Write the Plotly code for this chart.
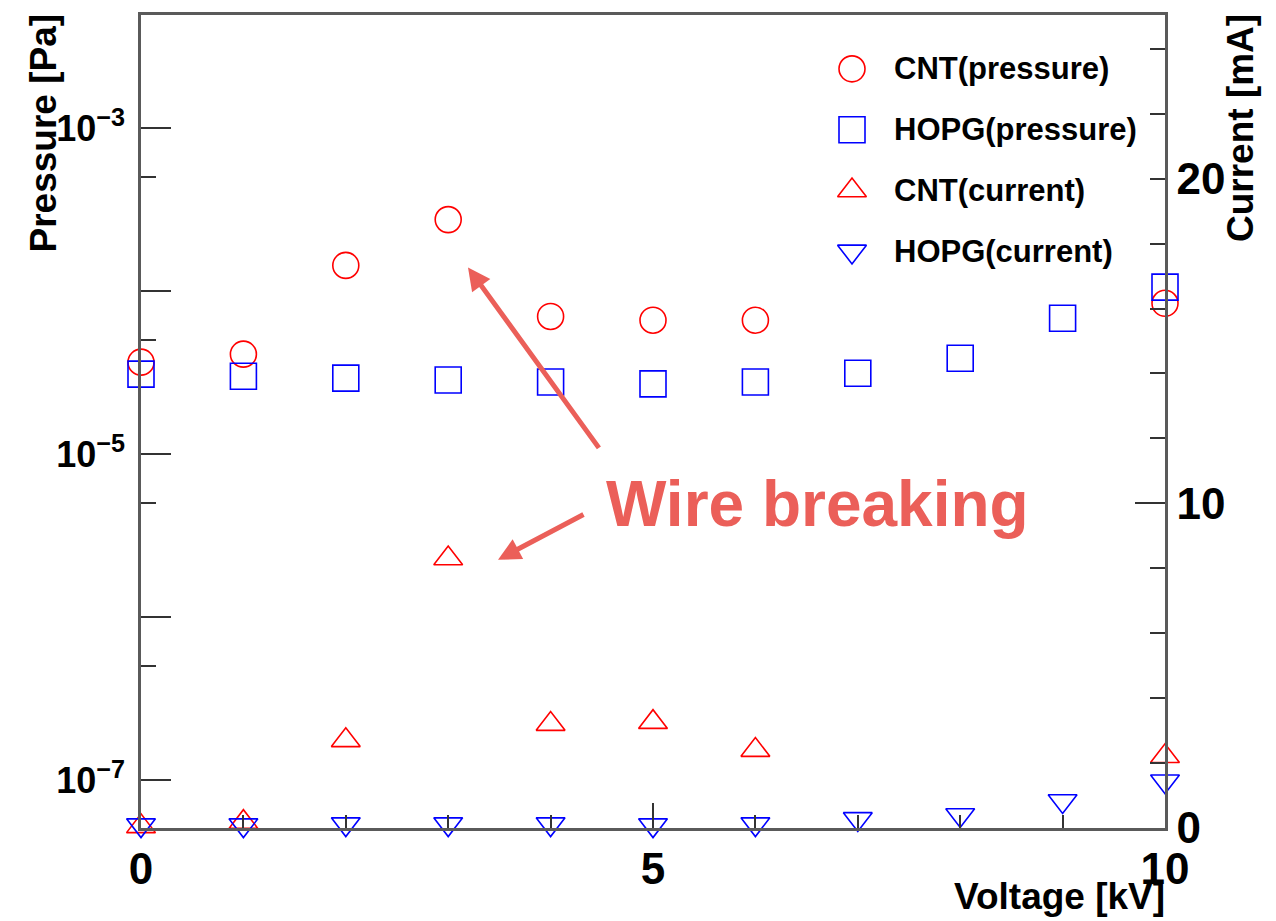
import plotly.graph_objects as go

# ---------------- data ----------------
voltage = [0, 1, 2, 3, 4, 5, 6, 7, 8, 9, 10]

cnt_p_voltage = [0, 1, 2, 3, 4, 5, 6, 10]
cnt_pressure = [3.67e-5, 4.11e-5, 1.44e-4, 2.75e-4, 7.0e-5, 6.64e-5, 6.64e-5, 8.43e-5]

hopg_pressure = [3.10e-5, 3.01e-5, 2.93e-5, 2.85e-5, 2.77e-5, 2.70e-5, 2.77e-5,
                 3.14e-5, 3.88e-5, 6.82e-5, 1.06e-4]

cnt_c_voltage = [0, 1, 2, 3, 4, 5, 6, 10]
cnt_current = [0.05, 0.18, 2.70, 8.30, 3.20, 3.26, 2.40, 2.21]

hopg_current = [0.09, 0.09, 0.12, 0.12, 0.12, 0.09, 0.12, 0.28, 0.40, 0.83, 1.44]

series_names = ["CNT(pressure)", "HOPG(pressure)", "CNT(current)", "HOPG(current)"]

left_tickvals = [1e-7, 1e-6, 1e-5, 1e-4, 1e-3]
left_ticktext = ["10<sup>\u22127</sup>", "", "10<sup>\u22125</sup>", "", "10<sup>\u22123</sup>"]
left_minor = [5e-8, 5e-7, 5e-6, 5e-5, 5e-4, 5e-3]

x_tickvals = [0, 5, 10]
right_tickvals = [0, 10, 20]

RED = "#ff0000"
BLUE = "#0000ff"
ANN = "#eb5f59"
FONT = "Liberation Sans"
AXC = "#5a5a5a"
TKC = "#333333"

styles = [
    dict(symbol="circle-open", size=26, color=RED),
    dict(symbol="square-open", size=26, color=BLUE),
    dict(symbol="triangle-up-open", size=25, color=RED),
    dict(symbol="triangle-down-open", size=25, color=BLUE),
]

def mk(st):
    return dict(symbol=st["symbol"], size=st["size"], color=st["color"],
                line=dict(width=1.6, color=st["color"]))

fig = go.Figure()
fig.add_trace(go.Scatter(x=cnt_p_voltage, y=cnt_pressure, mode="markers", name=series_names[0],
                         cliponaxis=False, showlegend=False, marker=mk(styles[0])))
fig.add_trace(go.Scatter(x=voltage, y=hopg_pressure, mode="markers", name=series_names[1],
                         cliponaxis=False, showlegend=False, marker=mk(styles[1])))
fig.add_trace(go.Scatter(x=cnt_c_voltage, y=cnt_current, mode="markers", name=series_names[2],
                         cliponaxis=False, showlegend=False, yaxis="y2", marker=mk(styles[2])))
fig.add_trace(go.Scatter(x=voltage, y=hopg_current, mode="markers", name=series_names[3],
                         cliponaxis=False, showlegend=False, yaxis="y2", marker=mk(styles[3])))

W = 1024.0
H = 815.0
def px(xp):
    return (xp - 141) / W
def py(yp):
    return (828 - yp) / H

# legend box (own hidden axes so symbols keep their true size)
LEG_L, LEG_R, LEG_T, LEG_B = 830, 1150, 40, 280
leg_rows = [67, 128, 189, 250]
for i, (nm, st) in enumerate(zip(series_names, styles)):
    fig.add_trace(go.Scatter(
        x=[(852 - LEG_L) / (LEG_R - LEG_L)], y=[(LEG_B - leg_rows[i]) / (LEG_B - LEG_T)],
        xaxis="x2", yaxis="y3", mode="markers", name=nm, showlegend=False,
        hoverinfo="name", cliponaxis=False, marker=mk(st)))

fig.update_layout(
    width=1276, height=921,
    margin=dict(l=141, r=111, t=13, b=93),
    paper_bgcolor="white", plot_bgcolor="white",
    font=dict(family=FONT, color="black"),
    showlegend=False,
    xaxis=dict(range=[0, 10], tickvals=x_tickvals, ticktext=[str(v) for v in x_tickvals],
               ticks="inside", ticklen=25, tickwidth=1.5, tickcolor=TKC,
               minor=dict(dtick=1, ticks="inside", ticklen=13, tickwidth=1.5, tickcolor=TKC),
               showline=True, linecolor=AXC, linewidth=2.5, mirror=True,
               showgrid=False, zeroline=False,
               tickfont=dict(family=FONT, size=44, color="black", weight="bold"),
               ticklabelstandoff=0),
    yaxis=dict(type="log", range=[-7.294, -2.305],
               tickvals=left_tickvals, ticktext=left_ticktext,
               ticks="inside", ticklen=30, tickwidth=1.5, tickcolor=TKC,
               minor=dict(tickvals=left_minor, ticks="inside", ticklen=15, tickwidth=1.5, tickcolor=TKC),
               showline=True, linecolor=AXC, linewidth=2.5,
               showgrid=False, zeroline=False,
               tickfont=dict(family=FONT, size=36, color="black", weight="bold"),
               ticklabelstandoff=6),
    yaxis2=dict(overlaying="y", side="right", range=[0, 25.04],
                tickvals=right_tickvals, ticktext=[str(v) for v in right_tickvals],
                ticks="inside", ticklen=30, tickwidth=1.5, tickcolor=TKC,
                minor=dict(dtick=2, ticks="inside", ticklen=15, tickwidth=1.5, tickcolor=TKC),
                showline=True, linecolor=AXC, linewidth=2.5,
                showgrid=False, zeroline=False,
                tickfont=dict(family=FONT, size=44, color="black", weight="bold"),
                ticklabelstandoff=0),
    xaxis2=dict(domain=[px(LEG_L), px(LEG_R)], range=[0, 1], anchor="y3", visible=False, fixedrange=True),
    yaxis3=dict(domain=[py(LEG_B), py(LEG_T)], range=[0, 1], anchor="x2", visible=False, fixedrange=True),
)

title_font = dict(family=FONT, size=37, color="black", weight="bold")
leg_font = dict(family=FONT, size=31, color="black", weight="bold")
annots = [
    dict(text="Pressure [Pa]", textangle=-90, xref="paper", yref="paper",
         x=px(44), y=py(10), xanchor="center", yanchor="top", showarrow=False, font=title_font),
    dict(text="Current [mA]", textangle=-90, xref="paper", yref="paper",
         x=px(1240), y=py(10), xanchor="center", yanchor="top", showarrow=False, font=title_font),
    dict(text="Voltage [kV]", xref="paper", yref="paper",
         x=px(1167), y=py(897), xanchor="right", yanchor="middle", showarrow=False, font=title_font),
    dict(text="Wire breaking", xref="paper", yref="paper",
         x=px(604), y=py(503), xanchor="left", yanchor="middle", showarrow=False,
         font=dict(family=FONT, size=64, color=ANN, weight="bold")),
    dict(text="", xref="paper", yref="paper", x=px(468), y=py(266),
         ax=132, ay=182, showarrow=True, arrowhead=2, arrowsize=0.9, arrowwidth=5, arrowcolor=ANN),
    dict(text="", xref="paper", yref="paper", x=px(498), y=py(559),
         ax=87, ay=-46, showarrow=True, arrowhead=2, arrowsize=0.9, arrowwidth=5, arrowcolor=ANN),
]
for i, nm in enumerate(series_names):
    annots.append(dict(text=nm, xref="paper", yref="paper", x=px(892), y=py(leg_rows[i]),
                       xanchor="left", yanchor="middle", showarrow=False, font=leg_font))
fig.update_layout(annotations=annots)

fig.write_html("out.html")
